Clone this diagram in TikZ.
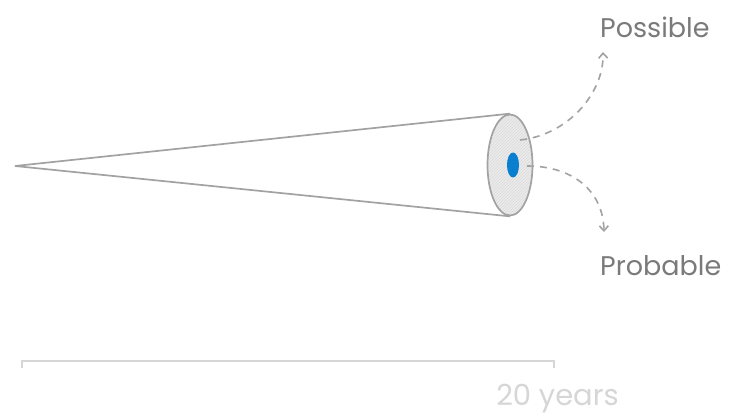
\documentclass[tikz,border=0pt]{standalone}
\usepackage{fontspec}
\setmainfont{Poppins}
\usepackage{xcolor}
\usetikzlibrary{arrows.meta,positioning,shapes.geometric,patterns}
\definecolor{conegray}{HTML}{A2A2A2}
\definecolor{labelgray}{HTML}{7A7A7A}
\definecolor{scalegray}{HTML}{D6D6D6}
\definecolor{dotblue}{HTML}{0A7FD0}
\begin{document}
\begin{tikzpicture}[x=1pt, y=1pt,
  coneline/.style={draw=conegray, line width=1.7pt},
  disc/.style={ellipse, draw=conegray, line width=1.7pt, minimum width=45pt,
               minimum height=101pt, inner sep=0pt,
               preaction={fill=black!8}, pattern=north east lines,
               pattern color=black!14},
  spot/.style={ellipse, fill=dotblue, minimum width=12pt, minimum height=25pt,
               inner sep=0pt},
  future/.style={draw=conegray, line width=1.6pt, dash pattern=on 7pt off 6pt,
                 -{Straight Barb[length=5pt, width=9pt]}},
  lbl/.style={text=labelgray, font=\fontsize{27}{30}\selectfont, anchor=west,
              inner sep=0pt},
  scalebar/.style={draw=scalegray, line width=1.8pt}
]
\useasboundingbox (0,0) rectangle (731,418);
% cone
\coordinate (apex) at (15,252);
\node[disc] (end) at (510,253) {};
\draw[coneline] (apex) -- (end.north);
\draw[coneline] (apex) -- (end.south);
\node[spot] (now) at (513,253) {};
% futures
\node[lbl] (poss) at (600,391) {Possible};
\node[lbl] (prob) at (600,152) {Probable};
\coordinate (up) at (520,278);
\coordinate (down) at (527,252);
\coordinate (posstip) at (603,366);
\coordinate (probtip) at (604,186);
\draw[future] (up) .. controls (568,283) and (604,325) .. (posstip);
\draw[future] (down) .. controls (572,252) and (603,228) .. (probtip);
% time scale
\coordinate (t0) at (22,57);
\coordinate (t1) at (554,57);
\draw[scalebar] ([yshift=-7pt]t0) -- (t0) -- (t1) -- ([yshift=-7pt]t1);
\node[text=scalegray, font=\fontsize{29}{30}\selectfont, anchor=base east,
      inner sep=0pt] (span) at (619,13) {20 years};
\end{tikzpicture}
\end{document}
